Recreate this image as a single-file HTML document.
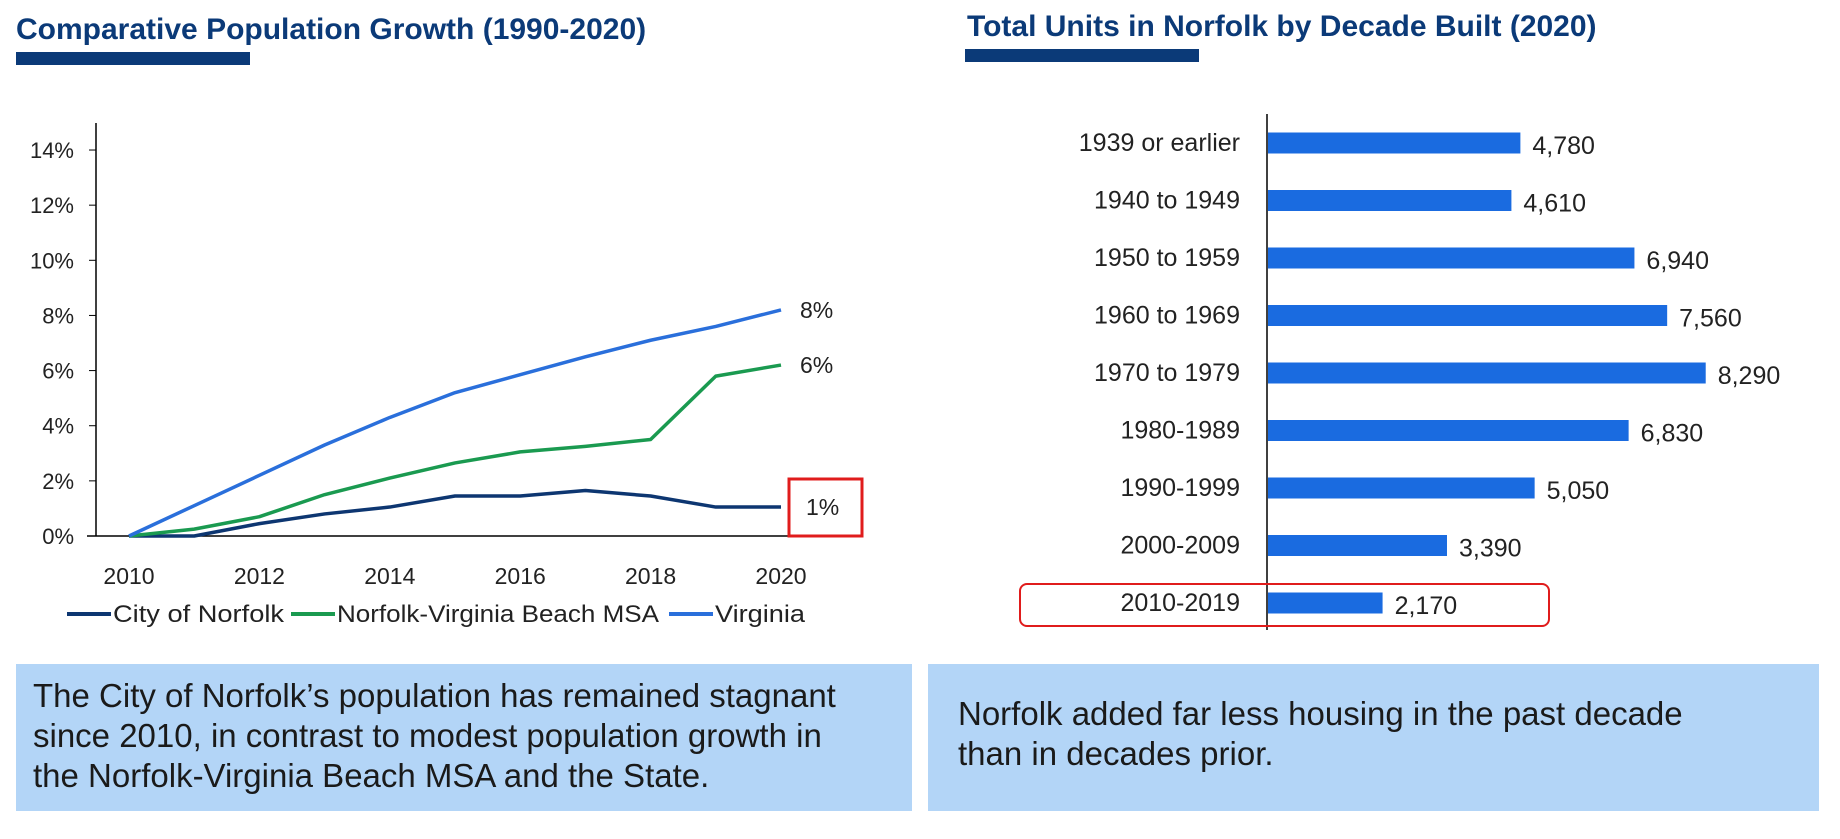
<!DOCTYPE html>
<html><head><meta charset="utf-8"><style>
body{margin:0;background:#fff;width:1840px;height:839px;overflow:hidden;font-family:"Liberation Sans",sans-serif;}
svg{position:absolute;left:0;top:0}
.box{position:absolute;background:#b3d5f7;color:#1a1a1a;font-size:33px;line-height:40px;box-sizing:border-box;white-space:nowrap}
</style></head><body>
<svg width="1840" height="839" id="svg">
<text x="16" y="39" font-size="30" font-weight="bold" fill="#0b3a78">Comparative Population Growth (1990-2020)</text>
<rect x="16" y="52" width="234" height="13" fill="#0b3a78"/>
<text x="967" y="36" font-size="30" font-weight="bold" fill="#0b3a78">Total Units in Norfolk by Decade Built (2020)</text>
<rect x="965" y="49" width="234" height="13" fill="#0b3a78"/>
<g id="line"></g><g id="bar"></g>
</svg>
<div class="box" style="left:16px;top:664px;width:896px;height:147px;padding:12px 0 0 17px">The City of Norfolk’s population has remained stagnant<br>since 2010, in contrast to modest population growth in<br>the Norfolk-Virginia Beach MSA and the State.</div>
<div class="box" style="left:928px;top:664px;width:891px;height:147px;padding:30px 0 0 30px">Norfolk added far less housing in the past decade<br>than in decades prior.</div>
<script>
const years=[2010,2011,2012,2013,2014,2015,2016,2017,2018,2019,2020];
const norfolk=[0,0,0.45,0.8,1.05,1.45,1.45,1.65,1.45,1.05,1.05];
const msa=[0,0.25,0.7,1.5,2.1,2.65,3.05,3.25,3.5,5.8,6.2];
const virginia=[0,1.1,2.2,3.3,4.3,5.2,5.85,6.5,7.1,7.6,8.2];
const yTicks=[0,2,4,6,8,10,12,14];
const xTicks=[2010,2012,2014,2016,2018,2020];
const endLabels=["1%","6%","8%"];
const categories=["1939 or earlier","1940 to 1949","1950 to 1959","1960 to 1969","1970 to 1979","1980-1989","1990-1999","2000-2009","2010-2019"];
const units=[4780,4610,6940,7560,8290,6830,5050,3390,2170];

const NS="http://www.w3.org/2000/svg";
function mk(p,t,a,txt){const e=document.createElementNS(NS,t);for(const k in a)e.setAttribute(k,a[k]);if(txt!==undefined)e.textContent=txt;p.appendChild(e);return e;}
const X=y=>129+(y-2010)*65.2, Y=v=>536-v*27.57;
const L=document.getElementById('line');
let ax=mk(L,'line',{x1:96,y1:123,x2:96,y2:536,stroke:'#000','stroke-width':1.5});


let xa=mk(L,'line',{x1:87,y1:536,x2:789,y2:536,stroke:'#000','stroke-width':1.5});


yTicks.forEach(v=>{
 mk(L,'line',{x1:89,x2:96,y1:Y(v),y2:Y(v),stroke:'#000'});
 const t=mk(L,'text',{x:74,y:Y(v)+8,'font-size':22,'text-anchor':'end',fill:'#222'},v+'%');
 
 
});
xTicks.forEach(v=>{
 const t=mk(L,'text',{x:X(v),y:584,'font-size':23,'text-anchor':'middle',fill:'#222'},v);
 
 
});
const series=[[norfolk,'#0d3671','city-of-norfolk-line'],[msa,'#1a9a50','msa-line'],[virginia,'#2a6fdb','virginia-line']];
series.forEach((s,i)=>{
 const p=mk(L,'polyline',{points:s[0].map((v,j)=>X(years[j])+','+Y(v)).join(' '),fill:'none',stroke:s[1],'stroke-width':3.5,'stroke-linejoin':'round'});
 
 
 const last=s[0][s[0].length-1];
 const t=mk(L,'text',{x:X(2020)+(i==0?25:19),y:Y(last)+8,'font-size':23,fill:'#222'},endLabels[i]);
 
 
});
let rb=mk(L,'rect',{x:789,y:479,width:73,height:57,fill:'none',stroke:'#e01c1c','stroke-width':3});


const leg=[['City of Norfolk','#0d3671',67,171],['Norfolk-Virginia Beach MSA','#1a9a50',291,322],['Virginia','#2a6fdb',669,90]];
leg.forEach(l=>{
 const g=mk(L,'g',{});
 
 
 mk(g,'line',{x1:l[2],x2:l[2]+44,y1:614,y2:614,stroke:l[1],'stroke-width':4});
 mk(g,'text',{x:l[2]+46,y:622,'font-size':24,fill:'#222',textLength:l[3],lengthAdjust:'spacingAndGlyphs'},l[0]);
});
const B=document.getElementById('bar');
const bx=v=>1268+v*0.0528, rowY=i=>143+i*57.5;
let ba=mk(B,'line',{x1:1267,x2:1267,y1:114,y2:630,stroke:'#000','stroke-width':1.5});


categories.forEach((c,i)=>{
 const t=mk(B,'text',{x:1240,y:rowY(i)+8,'font-size':25,'text-anchor':'end',fill:'#222'},c);
 
 
 const r=mk(B,'rect',{x:1268,y:rowY(i)-10.5,width:bx(units[i])-1268,height:21,fill:'#1a6be0'});
 
 
 const v=mk(B,'text',{x:bx(units[i])+12,y:rowY(i)+11,'font-size':25,fill:'#222'},units[i].toLocaleString('en-US'));
 
 
});
let rr=mk(B,'rect',{x:1020,y:584,width:529,height:42,rx:7,fill:'none',stroke:'#e01c1c','stroke-width':2});


</script>
</body></html>
